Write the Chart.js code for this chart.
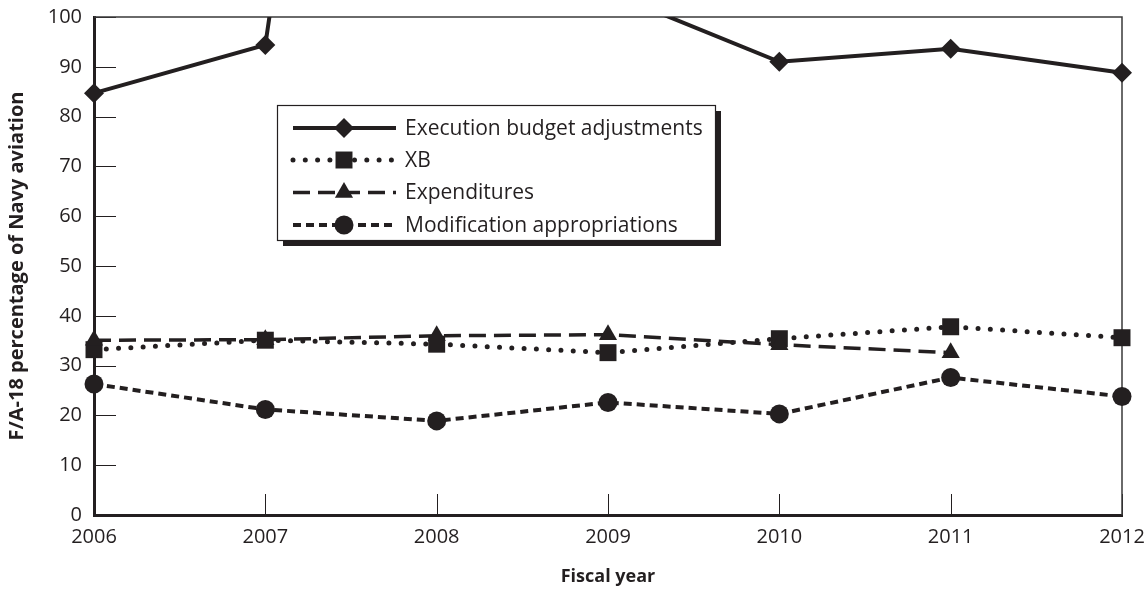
<!DOCTYPE html>
<html><head><meta charset="utf-8">
<script src="https://cdn.jsdelivr.net/npm/chart.js@4.4.1/dist/chart.umd.min.js"></script>
<style>html,body{margin:0;padding:0;background:#fff;} #wrap{position:relative;width:1148px;height:594px;}</style>
</head><body><div id="wrap"><canvas id="c" width="1148" height="594"></canvas></div>
<script>
const years = ['2006', '2007', '2008', '2009', '2010', '2011', '2012'];
const executionBudget = [84.7, 94.4, 330, 105, 91.0, 93.6, 88.8];
const xb = [33.2, 35.1, 34.3, 32.6, 35.4, 37.8, 35.6];
const expenditures = [35.1, 35.2, 36.0, 36.2, 34.2, 32.6, null];
const modification = [26.3, 21.2, 18.9, 22.6, 20.3, 27.6, 23.8];
const yTicks = [0, 10, 20, 30, 40, 50, 60, 70, 80, 90, 100];
const seriesNames = ['Execution budget adjustments', 'XB', 'Expenditures', 'Modification appropriations'];

const INK = '#231f20';
Chart.defaults.font.family = "'Open Sans', 'Noto Sans', sans-serif";
Chart.defaults.color = INK;

const styles = [
  {pointStyle: 'rectRot', radius: 10, borderWidth: 4, dash: [], cap: 'butt'},
  {pointStyle: 'rect', radius: 12, borderWidth: 5, dash: [0, 12.3], cap: 'round'},
  {pointStyle: 'triangle', radius: 10.5, borderWidth: 3.5, dash: [17, 8], cap: 'butt'},
  {pointStyle: 'circle', radius: 9.5, borderWidth: 4, dash: [8, 5], cap: 'butt'}
];
const seriesData = [executionBudget, xb, expenditures, modification];

const datasets = seriesData.map((d, i) => ({
  label: seriesNames[i],
  data: d,
  borderColor: INK,
  backgroundColor: INK,
  borderWidth: styles[i].borderWidth,
  borderDash: styles[i].dash,
  borderCapStyle: styles[i].cap,
  pointStyle: styles[i].pointStyle,
  pointRadius: styles[i].radius,
  pointBorderWidth: 0,
  pointBackgroundColor: INK,
  pointHoverRadius: styles[i].radius,
  tension: 0,
  clip: {left: 30, right: 30, bottom: 30, top: 0},
  order: 4 - i
}));

const decor = {
  id: 'decor',
  beforeDatasetsDraw(chart) {
    const {ctx, chartArea: a, scales: {x, y}} = chart;
    ctx.save();
    ctx.strokeStyle = INK;
    ctx.lineWidth = 1;
    yTicks.forEach(v => {
      const py = Math.round(y.getPixelForValue(v)) + 0.5;
      ctx.beginPath(); ctx.moveTo(a.left, py); ctx.lineTo(a.left + 22, py); ctx.stroke();
    });
    years.forEach((_, i) => {
      const px = Math.round(x.getPixelForValue(i)) + 0.5;
      ctx.beginPath(); ctx.moveTo(px, a.bottom); ctx.lineTo(px, a.bottom - 21); ctx.stroke();
    });
    ctx.lineWidth = 1.5;
    ctx.strokeStyle = '#3a3a3a';
    ctx.beginPath(); ctx.moveTo(a.left, a.top); ctx.lineTo(a.right, a.top); ctx.lineTo(a.right, a.bottom); ctx.stroke();
    ctx.restore();
  },
  afterDatasetsDraw(chart) {
    const ctx = chart.ctx;
    const bx = 277, by = 105, bw = 438, bh = 135, sh = 6;
    ctx.save();
    ctx.fillStyle = INK;
    ctx.fillRect(bx + sh, by + sh, bw, bh);
    ctx.fillStyle = '#fff';
    ctx.fillRect(bx, by, bw, bh);
    ctx.strokeStyle = INK;
    ctx.lineWidth = 1.2;
    ctx.strokeRect(bx + 0.5, by + 0.5, bw, bh);
    const rows = [128, 160, 192.5, 225];
    seriesNames.forEach((name, i) => {
      const s = styles[i];
      const ry = rows[i];
      ctx.save();
      ctx.strokeStyle = INK;
      ctx.lineWidth = s.borderWidth;
      ctx.lineCap = s.cap;
      ctx.setLineDash(s.dash);
      ctx.beginPath(); ctx.moveTo(293, ry); ctx.lineTo(396, ry); ctx.stroke();
      ctx.restore();
      ctx.fillStyle = INK;
      Chart.helpers.drawPoint(ctx, {pointStyle: s.pointStyle, radius: s.radius, rotation: 0, borderWidth: 0}, 344, ry);
      ctx.fillStyle = INK;
      ctx.font = "21px 'Open Sans', sans-serif";
      ctx.textBaseline = 'middle';
      ctx.textAlign = 'left';
      ctx.fillText(name, 405, ry + 1);
    });
    ctx.restore();
  }
};

new Chart(document.getElementById('c'), {
  type: 'line',
  data: {labels: years, datasets},
  options: {
    responsive: false,
    animation: false,
    events: [],
    layout: {padding: {top: 17, right: 26, bottom: 0, left: 0}},
    plugins: {legend: {display: false}, tooltip: {enabled: false}},
    scales: {
      x: {
        type: 'category',
        offset: false,
        grid: {display: false, drawTicks: false},
        border: {display: true, width: 3, color: INK},
        ticks: {font: {size: 20}, padding: 10, maxRotation: 0, autoSkip: false},
        title: {display: true, text: 'Fiscal year', font: {size: 18, weight: 'bold'}, padding: {top: 0, bottom: 6}},
        afterFit: s => { s.height = 79; s.paddingLeft = 0; s.paddingRight = 0; }
      },
      y: {
        min: 0, max: 100,
        grid: {display: false, drawTicks: false},
        border: {display: true, width: 3, color: INK},
        ticks: {stepSize: 10, font: {size: 20}, padding: 12},
        title: {display: true, text: 'F/A-18 percentage of Navy aviation', font: {size: 20, weight: 'bold'}, padding: {top: 5, bottom: 0}},
        afterFit: s => { s.width = 94; s.paddingTop = 0; s.paddingBottom = 0; }
      }
    }
  },
  plugins: [decor]
});
</script></body></html>
